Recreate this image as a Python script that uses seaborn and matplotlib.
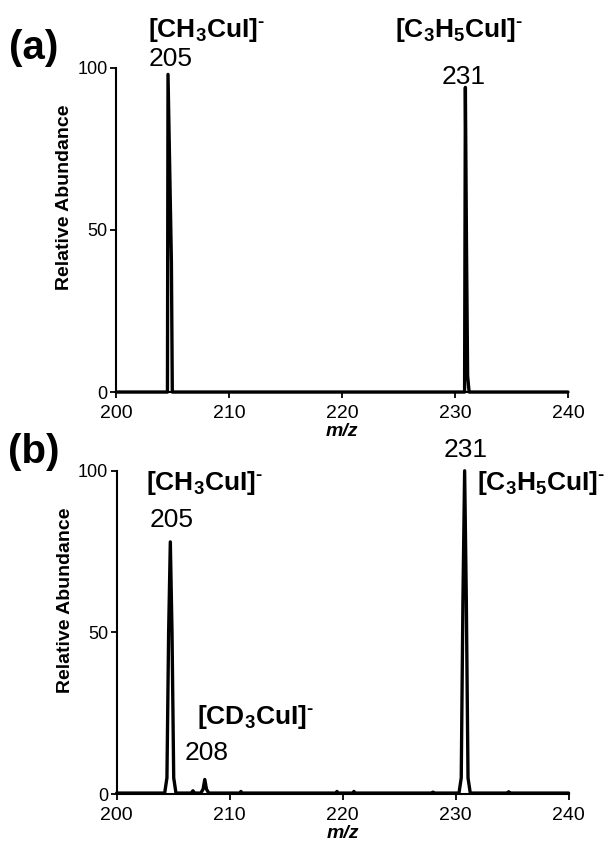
import matplotlib
matplotlib.use('Agg')
import matplotlib.pyplot as plt
import pandas as pd
import seaborn as sns

# spectrum (a): profile points
mz_a = [200.0, 204.55, 204.6, 204.9, 204.98, 230.85, 230.92, 231.02, 231.12, 231.25, 240.0]
ab_a = [0.0, 0.0, 98.0, 40.0, 0.0, 0.0, 94.0, 45.0, 5.0, 0.0, 0.0]

# spectrum (b)
mz_b = [200.0, 204.25, 204.45, 204.6, 204.75, 204.9, 205.05, 205.25,
        206.6, 206.75, 206.9, 207.45, 207.65, 207.8, 207.95, 208.15,
        210.9, 211.0, 211.1, 219.4, 219.5, 219.6, 220.9, 221.0, 221.1,
        227.9, 228.0, 228.1, 230.3, 230.5, 230.65, 230.8, 230.95, 231.1, 231.3,
        234.6, 234.7, 234.8, 240.0]
ab_b = [0.3, 0.3, 5.0, 50.0, 78.0, 50.0, 5.0, 0.3,
        0.3, 1.0, 0.3, 0.3, 1.5, 4.5, 1.5, 0.3,
        0.3, 0.8, 0.3, 0.3, 0.8, 0.3, 0.3, 0.8, 0.3,
        0.3, 0.6, 0.3, 0.3, 5.0, 60.0, 100.0, 60.0, 5.0, 0.3,
        0.3, 0.7, 0.3, 0.3]

x_ticks = [200, 210, 220, 230, 240]
y_ticks = [0, 50, 100]

NEG = '$^{\u2010}$'
# peak annotations: (text, x, y, bold)
labels_a = [('[CH$_3$CuI]' + NEG, 208.0, 111.7, True), ('205', 204.8, 102.8, False),
            ('[C$_3$H$_5$CuI]' + NEG, 230.4, 111.7, True), ('231', 230.8, 97.2, False)]
labels_b = [('[CH$_3$CuI]' + NEG, 207.8, 96.3, True), ('205', 204.9, 84.8, False),
            ('231', 230.9, 106.5, False), ('[CD$_3$CuI]' + NEG, 212.3, 23.8, True),
            ('208', 208.0, 12.7, False)]

sns.set_style('ticks')
plt.rcParams['font.family'] = ['Liberation Sans', 'DejaVu Sans']
plt.rcParams['mathtext.default'] = 'regular'
plt.rcParams['text.color'] = 'black'
plt.rcParams['axes.labelcolor'] = 'black'
plt.rcParams['xtick.color'] = 'black'
plt.rcParams['ytick.color'] = 'black'

fig = plt.figure(figsize=(6.14, 8.44), dpi=100)
ax_a = fig.add_axes([0.189, 0.5355, 0.736, 0.384])
ax_b = fig.add_axes([0.190, 0.0592, 0.736, 0.383])


def style_axis(ax, mz, ab):
    df = pd.DataFrame({'mz': mz, 'ab': ab})
    sns.lineplot(data=df, x='mz', y='ab', ax=ax, color='black', linewidth=2.4,
                 estimator=None, sort=False, clip_on=False, zorder=5)
    ax.set_xlim(200, 240)
    ax.set_ylim(0, 100)
    ax.set_xticks(x_ticks)
    ax.set_yticks(y_ticks)
    ax.tick_params(axis='both', direction='out', length=4, width=1.3, color='black',
                   labelcolor='black', labelsize=14, pad=5)
    ax.tick_params(axis='y', labelsize=13, pad=2)
    for s in ['left', 'bottom']:
        ax.spines[s].set_linewidth(1.5)
        ax.spines[s].set_color('black')
    sns.despine(ax=ax)
    ax.set_xlabel('m/z', fontsize=14, fontweight='bold', style='italic', labelpad=1)
    ax.set_ylabel('Relative Abundance', fontsize=14, fontweight='bold')
    ax.yaxis.set_label_coords(-0.095, 0.6)


style_axis(ax_a, mz_a, ab_a)
style_axis(ax_b, mz_b, ab_b)

for ax, labels in [(ax_a, labels_a), (ax_b, labels_b)]:
    for txt, x, y, bold in labels:
        ax.text(x, y, txt, ha='center', va='center', fontsize=19,
                fontweight='bold' if bold else 'normal', clip_on=False)

ax_b.text(231.9, 96.3, '[C$_3$H$_5$CuI]' + NEG, ha='left', va='center', fontsize=19,
          fontweight='bold', clip_on=False)

fig.text(0.055, 1 - 48 / 844, '(a)', fontsize=29, fontweight='bold', ha='center', va='center')
fig.text(0.055, 1 - 452 / 844, '(b)', fontsize=29, fontweight='bold', ha='center', va='center')

plt.savefig('out.png', dpi=100)
plt.close()
